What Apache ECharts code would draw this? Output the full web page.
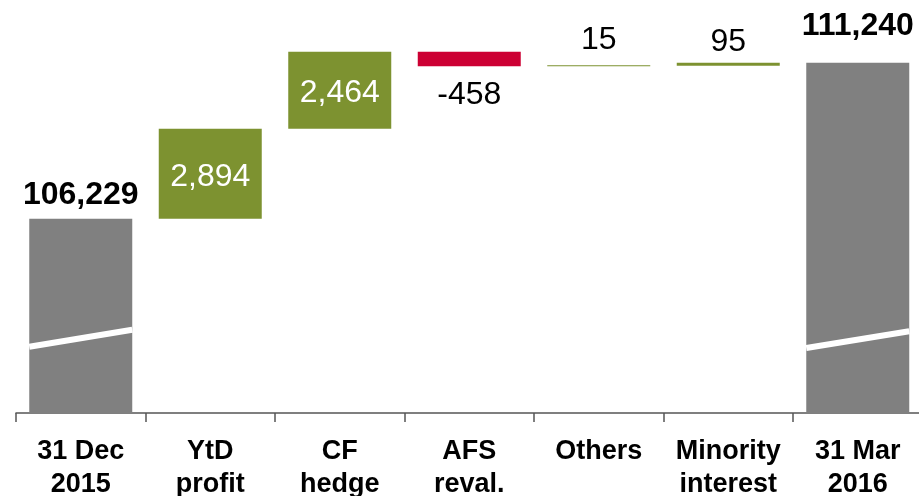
<!DOCTYPE html>
<html>
<head>
<meta charset="utf-8">
<script src="https://cdn.jsdelivr.net/npm/echarts@6/dist/echarts.min.js"></script>
<style>
	html, body { margin: 0; padding: 0; background: #fff; }
	#chart { width: 919px; height: 496px; }
</style>
</head>
<body>
<div id="chart"></div>
<script>
// Chart data
const categories = ["31 Dec\n2015", "YtD\nprofit", "CF\nhedge", "AFS\nreval.", "Others", "Minority\ninterest", "31 Mar\n2016"];
const startTotal = 106229;
const endTotal = 111240;
const deltas = [2894, 2464, -458, 15, 95];
// axis break decoration: [category, value at left edge, value at right edge]
const breakMarks = [[0, 102127, 102672], [6, 102085, 102624]];

const fontFamily = 'Arial, "Liberation Sans", sans-serif';
const grey = "#808080";
const green = "#7d9230";
const red = "#cc0033";

// build the waterfall: invisible base + visible step
const baseData = [0];
const stepData = [startTotal];
let running = startTotal;
deltas.forEach((d) => {
	const next = running + d;
	baseData.push(Math.min(running, next));
	stepData.push(Math.abs(d));
	running = next;
});
baseData.push(0);
stepData.push(endTotal);

function stepItem(value, i) {
	const fmt = (v) => v.toLocaleString("en-US");
	if (i === 0 || i === categories.length - 1) {
		return {
			value: value,
			itemStyle: { color: grey },
			label: {
				show: true, position: "top", distance: i === 0 ? 8 : 21,
				formatter: fmt(value), color: "#000", fontWeight: "bold",
			},
		};
	}
	const d = deltas[i - 1];
	const small = Math.abs(d) < 1000;
	return {
		value: value,
		itemStyle: { color: d < 0 ? red : green },
		label: {
			show: true,
			position: small ? (d < 0 ? "bottom" : "top") : "inside",
			distance: d < 0 ? 13 : (d < 50 ? 9 : 5),
			offset: small ? [0, 0] : [0, 3],
			formatter: fmt(d),
			color: small ? "#000" : "#fff",
			fontWeight: "normal",
		},
	};
}

const chart = echarts.init(document.getElementById("chart"));
chart.setOption({
	animation: false,
	grid: { left: 16, width: 906.5, top: 39, height: 374, outerBoundsMode: "none", containLabel: false },
	xAxis: {
		type: "category",
		data: categories,
		axisLine: { lineStyle: { color: "#555", width: 1.5 } },
		axisTick: { show: true, length: 9, lineStyle: { color: "#555", width: 1.5 } },
		axisLabel: {
			interval: 0, margin: 22, color: "#000",
			fontFamily: fontFamily, fontSize: 27, fontWeight: "bold", lineHeight: 33,
		},
	},
	yAxis: {
		type: "value",
		min: 100000,
		max: 112000,
		show: false,
		splitLine: { show: false },
	},
	series: [
		{
			type: "bar",
			stack: "w",
			data: baseData,
			barWidth: 103,
			itemStyle: { color: "transparent" },
			silent: true,
		},
		{
			type: "bar",
			stack: "w",
			barWidth: 103,
			barMinHeight: 1,
			data: stepData.map(stepItem),
			label: { fontFamily: fontFamily, fontSize: 32 },
		},
		{
			type: "custom",
			data: breakMarks,
			z: 10,
			renderItem: function (params, api) {
				const p1 = api.coord([api.value(0), api.value(1)]);
				const p2 = api.coord([api.value(0), api.value(2)]);
				const half = 51.5;
				return {
					type: "line",
					shape: { x1: p1[0] - half, y1: p1[1], x2: p2[0] + half, y2: p2[1] },
					style: { stroke: "#fff", lineWidth: 6 },
				};
			},
		},
	],
});
</script>
</body>
</html>
